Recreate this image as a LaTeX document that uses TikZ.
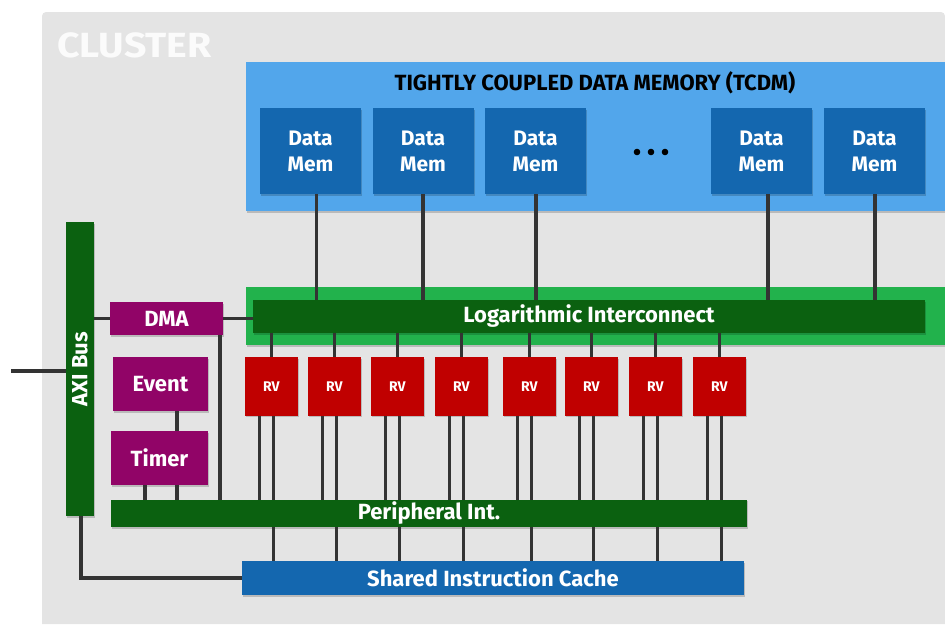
\documentclass[tikz,border=0pt]{standalone}
\usepackage{fontspec}
\setmainfont{Fira Sans}
\usetikzlibrary{shadows}

\definecolor{clustergray}{HTML}{E4E4E4}
\definecolor{tcdmblue}{HTML}{52A6EB}
\definecolor{memblue}{HTML}{1467AF}
\definecolor{framegreen}{HTML}{22B24C}
\definecolor{busgreen}{HTML}{0B6110}
\definecolor{periphpurple}{HTML}{910467}
\definecolor{corered}{HTML}{C00000}
\definecolor{wiregray}{HTML}{333333}

\tikzset{
  soft/.style={drop shadow={shadow xshift=1.2pt, shadow yshift=-1.8pt,
      fill=black, opacity=0.18}},
  blk/.style={soft, anchor=north west, inner sep=0pt, outer sep=0pt,
      text=white, align=center,
      font=\bfseries\fontsize{22}{26}\selectfont},
  memblk/.style={blk, fill=memblue, minimum width=101pt, minimum height=86pt,
      font=\bfseries\fontsize{21}{26}\selectfont},
  rvblk/.style={blk, fill=corered, minimum width=52.5pt, minimum height=58.5pt,
      font=\bfseries\fontsize{14}{15}\selectfont},
  purpleblk/.style={blk, fill=periphpurple},
  busblk/.style={blk, fill=busgreen},
  wire/.style={draw=wiregray, line width=3.2pt},
}

\begin{document}
\begin{tikzpicture}[x=1pt, y=-1pt]
\useasboundingbox (0,0) rectangle (945,624);

% cluster background, only the top-left corner is visible
\fill[clustergray] (945,624) -- (42,624)
   {[rounded corners=4pt] -- (42,12) -- (945,12)} -- cycle;
\node[soft, anchor=north west, fill=tcdmblue, inner sep=0pt,
      minimum width=699pt, minimum height=149pt] (tcdm) at (246,62) {};
\node[soft, anchor=north west, fill=framegreen, inner sep=0pt,
      minimum width=699pt, minimum height=58pt] (licframe) at (246,287) {};

\node[anchor=base west, text=white!97!gray, inner sep=0pt,
      font=\bfseries\fontsize{35}{35}\selectfont] (clusterlabel) at (57,57)
      {\scalebox{1.12}[1]{CLUSTER}};

\node[anchor=base, inner sep=0pt, text=black,
      font=\bfseries\fontsize{22}{22}\selectfont] (tcdmlabel) at (595,90)
      {TIGHTLY COUPLED DATA MEMORY (TCDM)};

% data memory banks
\node[memblk] (dm1) at (260,108)   {Data\\Mem};
\node[memblk] (dm2) at (372.5,108) {Data\\Mem};
\node[memblk] (dm3) at (485,108)   {Data\\Mem};
\node[memblk] (dm4) at (711,108)   {Data\\Mem};
\node[memblk] (dm5) at (824,108)   {Data\\Mem};
\node[inner sep=0pt] (dots) at (651,152)
  {\tikz[x=1pt,y=1pt]{\foreach \i in {0,1,2}{\fill (\i*14,0) circle (3.3pt);}}};

% interconnects and buses
\node[busblk, minimum width=672pt, minimum height=33pt] (lic) at (253,300)
  {Logarithmic Interconnect};
\node[busblk, minimum width=28pt, minimum height=294pt] (axi) at (66,222)
  {\rotatebox{90}{AXI Bus}};
\node[busblk, minimum width=636pt, minimum height=27.5pt] (per) at (111,499.5)
  {Peripheral Int.};
\node[blk, fill=memblue, minimum width=502pt, minimum height=34pt] (sic) at (242,561)
  {Shared Instruction Cache};

% peripherals
\node[purpleblk, minimum width=113pt, minimum height=33pt] (dma) at (110,302) {DMA};
\node[purpleblk, minimum width=95pt, minimum height=54pt] (event) at (113,357) {Event};
\node[purpleblk, minimum width=97pt, minimum height=54pt] (timer) at (111,431) {Timer};

% RISC-V cores
\foreach \n/\x in {1/245,2/308,3/371,4/435,5/503,6/565,7/629,8/693}{
  \node[rvblk] (rv\n) at (\x,357) {RV};
}

% memory banks to the logarithmic interconnect
\foreach \m/\dx in {1/6,2/0,3/0.5,4/6.5,5/0.5}{
  \coordinate (mt\m) at ([xshift=\dx pt]dm\m.south);
  \draw[wire] (mt\m) -- (mt\m |- lic.north);
}
% cores: data port, peripheral port, instruction port
\foreach \n in {1,...,8}{
  \draw[wire] (rv\n.north) -- (rv\n.north |- lic.south);
  \coordinate (pp\n) at ([xshift=-12pt]rv\n.south);
  \coordinate (ip\n) at ([xshift=2pt]rv\n.south);
  \draw[wire] (pp\n) -- (pp\n |- per.north);
  \draw[wire] (ip\n) -- (ip\n |- per.north);
  \draw[wire] (ip\n |- per.south) -- (ip\n |- sic.north);
}
% DMA links
\draw[wire] (dma.west) -- (dma.west -| axi.east);
\draw[wire] (dma.east) -- (dma.east -| lic.west);
\coordinate (dmaout) at ([xshift=-3pt]dma.south east);
\draw[wire] (dmaout) -- (dmaout |- per.north);
% event unit and timer
\coordinate (evout) at ([xshift=16.5pt]event.south);
\draw[wire] (evout) -- (evout |- timer.north);
\coordinate (tm1) at ([xshift=-14.5pt]timer.south);
\coordinate (tm2) at ([xshift=17.5pt]timer.south);
\draw[wire] (tm1) -- (tm1 |- per.north);
\draw[wire] (tm2) -- (tm2 |- per.north);
% AXI bus: external port and instruction refill path
\coordinate (ext) at (11,371);
\draw[wire] (ext) -- (ext -| axi.west);
\draw[wire] ([xshift=1pt]axi.south) |- (sic.west);
\end{tikzpicture}
\end{document}
